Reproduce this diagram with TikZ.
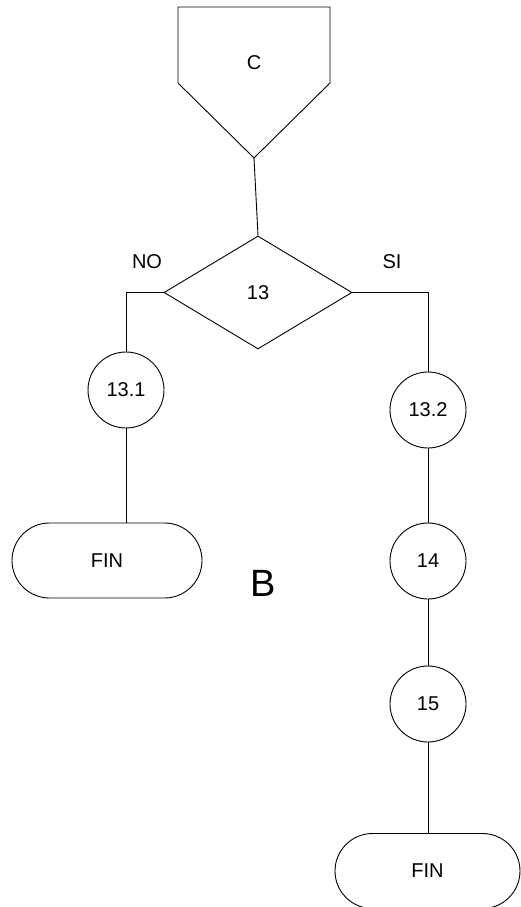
\documentclass[tikz,border=0pt]{standalone}
\usepackage{fontspec}
\setmainfont{Liberation Sans}
\usetikzlibrary{shapes.geometric,shapes.misc}
\begin{document}
\begin{tikzpicture}[x=1pt,y=-1pt,
  every node/.style={font=\fontsize{20}{24}\selectfont},
  conn/.style={draw=black,line width=0.9pt},
  shp/.style={draw=black,line width=0.9pt,inner sep=0pt},
  proc/.style={shp,circle,minimum size=76pt},
  term/.style={shp,rounded rectangle,minimum height=75pt},
  dec/.style={shp,diamond,minimum width=188pt,minimum height=113pt}]
\useasboundingbox (0,0) rectangle (521,907);
% off-page connector
\node (C) at (254,63) {C};
\coordinate (cbot) at (254,158);
\draw[conn] (178,7) -- (330,7) -- (330,83) -- (cbot) -- (178,83) -- cycle;
% decision
\node[dec] (d) at (258,292.5) {13};
\node at (147,262) {NO};
\node at (392,262) {SI};
% processes
\node[proc] (c131) at (126,390) {13.1};
\node[proc] (c132) at (428,410) {13.2};
\node[proc] (c14) at (428,561) {14};
\node[proc] (c15) at (428,704) {15};
% terminals
\node[term,minimum width=190pt] (fin1) at (107,560.5) {FIN};
\node[term,minimum width=185pt] (fin2) at (427.5,871) {FIN};
\node[font=\fontsize{38}{44}\selectfont] (B) at (263,583) {B};
% connectors
\draw[conn] (cbot) -- (d.north);
\draw[conn] (d.west) -| (c131.north);
\draw[conn] (d.east) -| (c132.north);
\draw[conn] (c131.south) -- (c131.south |- fin1.north);
\draw[conn] (c132.south) -- (c14.north);
\draw[conn] (c14.south) -- (c15.north);
\draw[conn] (c15.south) -- (c15.south |- fin2.north);
\end{tikzpicture}
\end{document}
